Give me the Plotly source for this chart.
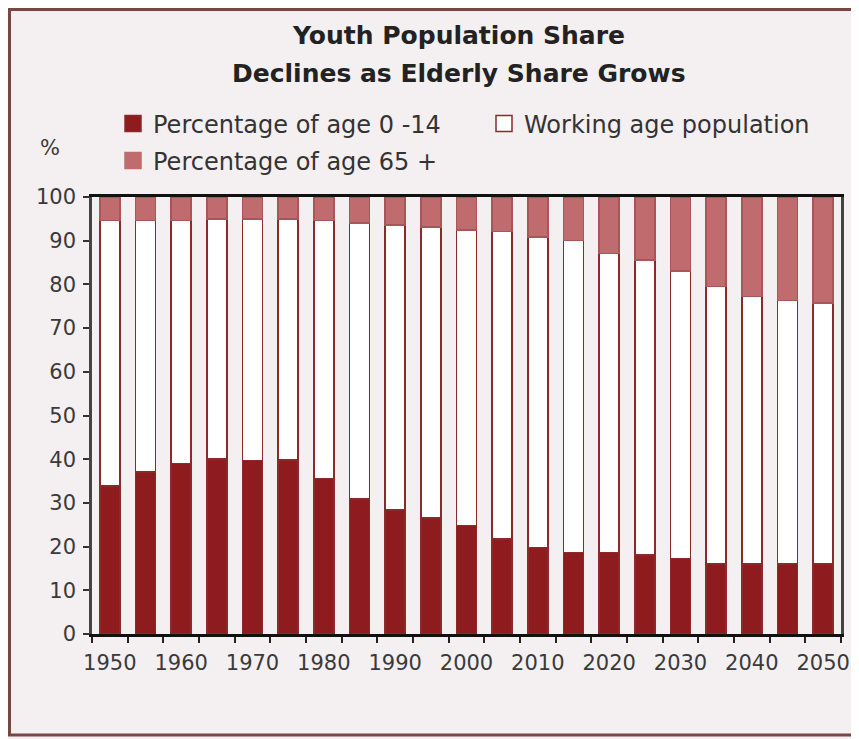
import plotly.graph_objects as go

# ---- data ----
years = ["1950", "1955", "1960", "1965", "1970", "1975", "1980", "1985", "1990", "1995",
         "2000", "2005", "2010", "2015", "2020", "2025", "2030", "2035", "2040", "2045", "2050"]
youth_0_14 = [33.9, 37.1, 39.0, 40.0, 39.7, 39.8, 35.6, 30.9, 28.4, 26.6,
              24.8, 21.7, 19.8, 18.7, 18.6, 18.1, 17.3, 16.0, 16.0, 16.0, 16.0]
working_age = [60.7, 57.5, 55.6, 55.0, 55.3, 55.2, 59.0, 63.1, 65.2, 66.5,
               67.6, 70.4, 71.0, 71.3, 68.5, 67.5, 65.8, 63.5, 61.2, 60.3, 59.8]
elderly_65 = [5.4, 5.4, 5.4, 5.0, 5.0, 5.0, 5.4, 6.0, 6.4, 6.9,
              7.6, 7.9, 9.2, 10.0, 12.9, 14.4, 16.9, 20.5, 22.8, 23.7, 24.2]
x_tick_text = ["1950", "", "1960", "", "1970", "", "1980", "", "1990", "", "2000",
               "", "2010", "", "2020", "", "2030", "", "2040", "", "2050"]
y_tick_vals = [0, 10, 20, 30, 40, 50, 60, 70, 80, 90, 100]

names = ["Percentage of age 0 -14", "Working age population", "Percentage of age 65 +"]

# ---- style ----
C_YOUTH = "#8E1B1D"
C_WORK = "#FFFFFF"
C_OLD = "#C06B6E"
C_EDGE = "#8B2A2A"
BG = "#F4EFF0"
FONT = "DejaVu Sans"

OFF = 8  # page body margin
W, H = 859 - OFF, 739 - OFF
L, R, T, B = 92 - OFF, 18, 197 - OFF, 105
pw, ph = W - L - R, H - T - B

def px(xpage):
    return (xpage - OFF - L) / pw

def py(ypage):
    return (H - B - (ypage - OFF)) / ph

fig = go.Figure()
series = [(youth_0_14, C_YOUTH, names[0]), (working_age, C_WORK, names[1]), (elderly_65, C_OLD, names[2])]
for vals, col, nm in series:
    fig.add_trace(go.Bar(
        x=years, y=vals, name=nm, showlegend=False,
        marker=dict(color=col, line=dict(color=C_EDGE if col != C_OLD else "#A9565A", width=1.5)),
        width=0.56,
    ))

# legend entries (larger swatches), each in its own legend box
legend_ids = ["legend", "legend2", "legend3"]
for (vals, col, nm), lg in zip(series, legend_ids):
    fig.add_trace(go.Scatter(
        x=[None], y=[None], mode="markers", name=nm, legend=lg,
        marker=dict(symbol="square", size=16, color=col,
                    line=dict(color=C_EDGE if col != C_OLD else C_OLD, width=1.5)),
    ))

leg_common = dict(orientation="h", xanchor="left", yanchor="middle",
                  font=dict(size=24, color="#333333", family=FONT),
                  bgcolor="rgba(0,0,0,0)")

fig.update_layout(
    width=W, height=H,
    margin=dict(l=L, r=R, t=T, b=B, autoexpand=False),
    barmode="stack",
    paper_bgcolor=BG, plot_bgcolor=BG,
    font=dict(family=FONT, color="#333333"),
    legend=dict(x=px(113), y=py(124), **leg_common),
    legend2=dict(x=px(484), y=py(124), **leg_common),
    legend3=dict(x=px(113), y=py(161), **leg_common),
    xaxis=dict(type="category", tickmode="array", tickvals=years, ticktext=x_tick_text,
               tickson="boundaries", ticks="outside", ticklen=6, tickwidth=2, tickcolor="#222",
               tickangle=0, automargin=False, ticklabelstandoff=8,
               showline=True, linecolor="#111111", linewidth=2.5, mirror=True,
               layer="below traces", showgrid=False,
               tickfont=dict(size=21, color="#3a3a3a", family=FONT)),
    yaxis=dict(range=[0, 100], tickmode="array", tickvals=y_tick_vals, automargin=False,
               ticks="outside", ticklen=6, tickwidth=2, tickcolor="#333", ticklabelstandoff=3,
               showline=True, linecolor="#444444", linewidth=2.5, mirror=True,
               showgrid=False, zeroline=False,
               tickfont=dict(size=21, color="#3a3a3a", family=FONT)),
    annotations=[
        dict(text="<b>Youth Population Share</b>", x=px(458), y=py(35), xref="paper", yref="paper",
             xanchor="center", yanchor="middle", showarrow=False,
             font=dict(size=25, color="#222222", family=FONT)),
        dict(text="<b>Declines as Elderly Share Grows</b>", x=px(459), y=py(73), xref="paper", yref="paper",
             xanchor="center", yanchor="middle", showarrow=False,
             font=dict(size=25, color="#222222", family=FONT)),
        dict(text="%", x=px(50), y=py(148), xref="paper", yref="paper",
             xanchor="center", yanchor="middle", showarrow=False,
             font=dict(size=21, color="#3a3a3a", family=FONT)),
    ],
    shapes=[dict(type="rect", xref="paper", yref="paper",
                 x0=px(9.5), x1=px(875), y0=py(735), y1=py(9.5),
                 line=dict(color="#7A4644", width=3), fillcolor="rgba(0,0,0,0)", layer="below")],
)

fig.write_html("out.html")
